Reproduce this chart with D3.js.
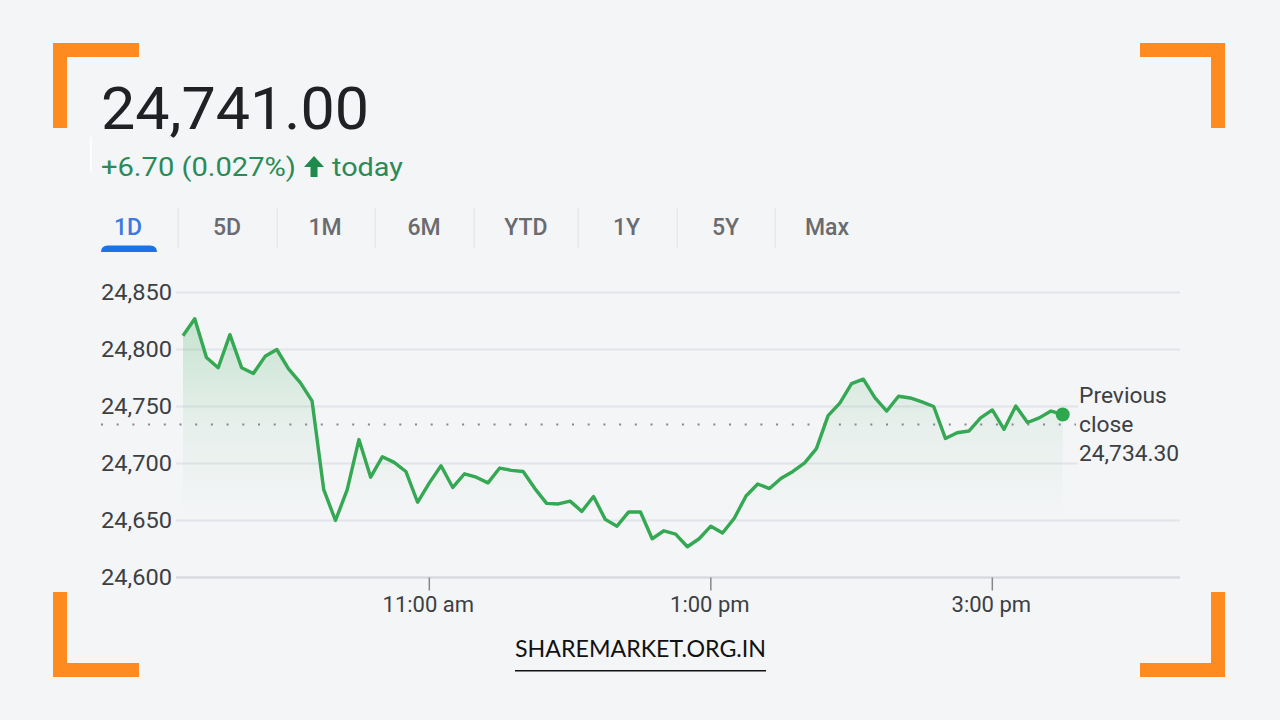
<!DOCTYPE html>
<html><head><meta charset="utf-8">
<script src="https://cdn.jsdelivr.net/npm/d3@7"></script>
<style>html,body{margin:0;padding:0;background:#f4f5f7;overflow:hidden}svg{display:block}text{font-family:Roboto,sans-serif}</style>
</head><body><svg id="c" width="1280" height="720"></svg>
<script>
const quote = "24,741.00";
const change = "+6.70 (0.027%)";
const changeSuffix = "today";
const ranges = ["1D","5D","1M","6M","YTD","1Y","5Y","Max"];
const yTicks = [24600,24650,24700,24750,24800,24850];
const xTickHours = [11,13,15];
const prevClose = 24734.30;
const prevLabel = ["Previous","close","24,734.30"];
const brand = "SHAREMARKET.ORG.IN";
const startMinutes = 555, stepMinutes = 5, endMinutes = 980;
const prices = [24812,24827,24793,24784,24813,24784,24779,24794,24800,24783,24771,24755,24677,24650,24677,24721,24688,24706,24701,24693,
24666,24683,24698,24679,24691,24688,24683,24696,24694,24693,24678,24665,24664.5,24667,24658,24671,24651,24645,24657.5,24657.5,
24634,24641,24638,24627,24634,24645,24639,24652,24671.5,24682,24678,24687,24693,24700.5,24713,24742,24753,24770,24774,24757.5,
24746,24759,24757.5,24754,24750,24722,24727,24728.5,24740,24747,24730,24750.5,24736,24740,24746,24743];

const svg = d3.select("#c");
const bg="#f4f5f7", green="#34a853", txtGreen="#2b8a57", orange="#ff8a1f";
const x = d3.scaleLinear().domain([startMinutes,endMinutes]).range([183,1180]);
const y = d3.scaleLinear().domain([24600,24850]).range([577.5,292.5]);
const pts = prices.map((v,i)=>({t:startMinutes+i*stepMinutes,v}));

// corner brackets
const br = svg.append("g").attr("fill",orange);
[[53,43,86,14],[53,43,14,85],[1140,43,85,14],[1211,43,14,85],[53,663,86,14],[53,592,14,85],[1140,663,85,14],[1211,592,14,85]]
 .forEach(r=>br.append("rect").attr("x",r[0]).attr("y",r[1]).attr("width",r[2]).attr("height",r[3]));

// header
svg.append("rect").attr("x",90).attr("y",137).attr("width",1.5).attr("height",35).attr("fill","#fff");
svg.append("text").attr("x",101).attr("y",129).attr("font-size",60).attr("fill","#202124").attr("textLength",268).attr("lengthAdjust","spacingAndGlyphs").text(quote);
svg.append("text").attr("x",101).attr("y",176).attr("font-size",26).attr("fill",txtGreen).attr("textLength",195).attr("lengthAdjust","spacingAndGlyphs").text(change);
svg.append("path").attr("d","M314 156 L324 167 L317.5 167 L317.5 177 L310.5 177 L310.5 167 L304 167 Z").attr("fill","#1e8a4c");
svg.append("text").attr("x",332).attr("y",176).attr("font-size",26).attr("fill",txtGreen).attr("textLength",71).attr("lengthAdjust","spacingAndGlyphs").text(changeSuffix);

// range tabs
const seps=[178,277,375,474,578,677,775];
seps.forEach(s=>svg.append("rect").attr("x",s-.5).attr("y",208).attr("width",1.5).attr("height",40).attr("fill","#e6e8ec"));
const tabX=[128,227,325,424,526,626.5,725.5,827];
ranges.forEach((r,i)=>svg.append("text").attr("x",tabX[i]).attr("y",235).attr("text-anchor","middle").attr("font-size",23).attr("font-weight",500)
  .attr("fill",i===0?"#3b78e0":"#696b6f").text(r));
svg.append("path").attr("d","M101 252 Q101 245.5 108 245.5 L150 245.5 Q157 245.5 157 252 Z").attr("fill","#1a73e8");

// area gradient
const fadeFloor = 24650;
const defs = svg.append("defs");
const g = defs.append("linearGradient").attr("id","fade").attr("gradientUnits","userSpaceOnUse").attr("x1",0).attr("x2",0).attr("y1",y(24827)).attr("y2",y(fadeFloor));
g.append("stop").attr("offset",0).attr("stop-color",green).attr("stop-opacity",.24);
g.append("stop").attr("offset",.5).attr("stop-color",green).attr("stop-opacity",.075);
g.append("stop").attr("offset",1).attr("stop-color",green).attr("stop-opacity",0);

// grid
const shortGrid = new Set([24750,24700]);
const grid = svg.append("g");
yTicks.filter(t=>t!==24600).forEach(t=>grid.append("line").attr("x1",176).attr("x2",shortGrid.has(t)?1078:1180).attr("y1",y(t)).attr("y2",y(t)).attr("stroke","#e2e4ea").attr("stroke-width",1.8));

svg.append("path").attr("fill","url(#fade)")
  .attr("d",d3.area().x(d=>x(d.t)).y0(y(fadeFloor)).y1(d=>Math.min(y(d.v),y(fadeFloor)))(pts));

// prev close dotted
svg.append("line").attr("x1",101).attr("x2",1076).attr("y1",y(prevClose)).attr("y2",y(prevClose))
  .attr("stroke","#85888c").attr("stroke-width",2).attr("stroke-dasharray","2 13.7");

// axes
const yAxis = d3.axisLeft(y).tickValues(yTicks).tickSize(0).tickFormat(d3.format(","));
const ya = svg.append("g").attr("transform","translate(172,0)").call(yAxis);
ya.select(".domain").remove();
ya.selectAll("text").attr("x",0).attr("font-size",22).attr("fill","#3c4043").attr("font-family","Roboto").attr("textLength",71).attr("lengthAdjust","spacingAndGlyphs");

const fmtHour = h=>(h>12?h-12:h)+":00 "+(h>=12?"pm":"am");
const xAxis = d3.axisBottom(x).offset(0).tickValues(xTickHours.map(h=>h*60)).tickSize(13).tickPadding(6).tickFormat(m=>fmtHour(m/60));
const xa = svg.append("g").attr("transform","translate(0,577.5)").call(xAxis);
xa.select(".domain").attr("stroke","#d8dae0").attr("stroke-width",2.6).attr("d","M176,0H1180");
xa.selectAll("line").attr("stroke","#85888c").attr("stroke-width",1.5);
xa.selectAll("text").attr("font-size",22).attr("dx",-1).attr("fill","#3c4043").attr("font-family","Roboto");

// line
svg.append("path").attr("fill","none").attr("stroke",green).attr("stroke-width",3.4).attr("stroke-linejoin","round")
  .attr("d",d3.line().x(d=>x(d.t)).y(d=>y(d.v))(pts));
const last=pts[pts.length-1];
svg.append("circle").attr("cx",x(last.t)).attr("cy",y(last.v)).attr("r",7).attr("fill","#2ea84f");

// prev close label
prevLabel.forEach((l,i)=>svg.append("text").attr("x",1079).attr("y",403+i*29).attr("font-size",22.8).attr("fill","#3c4043").text(l));

// brand
svg.append("text").attr("x",515).attr("y",657).attr("font-size",24).attr("fill","#111").attr("textLength",251).attr("lengthAdjust","spacingAndGlyphs").style("font-family","Lato, sans-serif").text(brand);
svg.append("rect").attr("x",515).attr("y",670).attr("width",251).attr("height",1.5).attr("fill","#111");
</script></body></html>
